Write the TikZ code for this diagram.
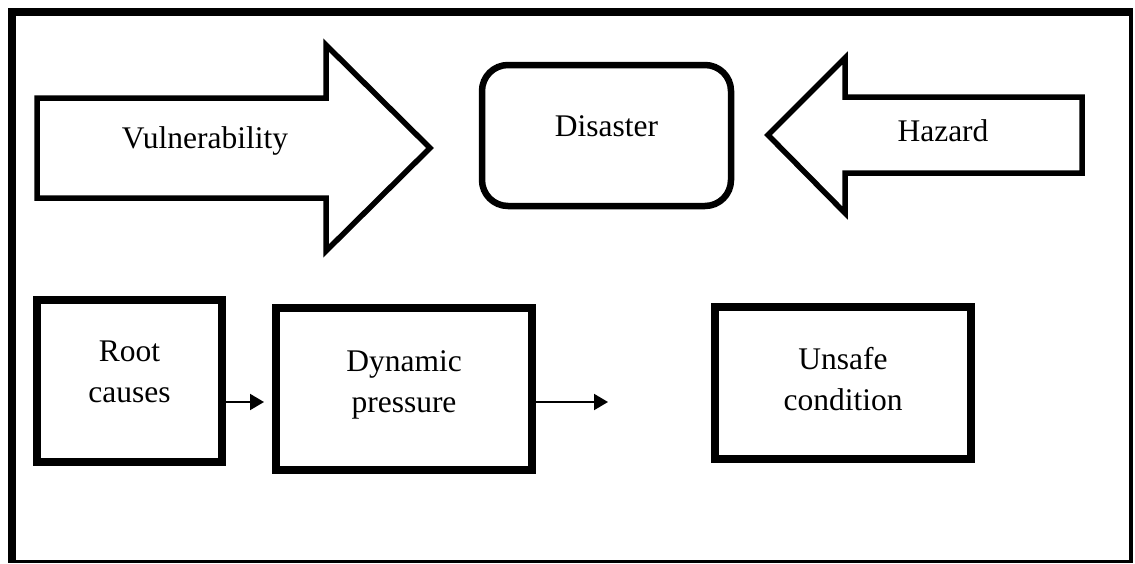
\documentclass[tikz,border=0pt]{standalone}
\usepackage{fontspec}
\setmainfont{Liberation Serif}
\usetikzlibrary{arrows.meta}
\begin{document}
\begin{tikzpicture}[x=1pt,y=-1pt,
  txt/.style={font=\fontsize{31.5}{41.5}\selectfont, align=center, inner sep=0pt},
  thickbox/.style={draw, line width=7.5pt, inner sep=0pt},
  blockarrow/.style={draw, line width=5.5pt, line join=miter},
  conn/.style={line width=2pt, -{Triangle[length=14pt,width=16pt]}}]
\useasboundingbox (0,0) rectangle (1135,563);
% frame
\draw[line width=8pt] (8,12) -- (1133,12);
\draw[line width=8pt] (12,8) -- (12,563);
\draw[line width=4pt] (1131,10) -- (1131,563);
\draw[line width=3pt] (10,561) -- (1133,561);
% vulnerability arrow
\draw[blockarrow] (37,98) -- (326,98) -- (326,45) -- (430,148) -- (326,251) -- (326,198) -- (37,198) -- cycle;
\node[txt] (vuln) at (205,141) {Vulnerability};
% hazard arrow
\draw[blockarrow] (768,135) -- (845,58) -- (845,97) -- (1082,97) -- (1082,173) -- (845,173) -- (845,213) -- cycle;
\node[txt] (haz) at (943,131) {Hazard};
% disaster
\node[draw, line width=6.5pt, rounded corners=26pt, minimum width=249pt, minimum height=141pt] (dis) at (606.5,135.5) {};
\node[txt] (distext) at (606.5,126) {Disaster};
% bottom boxes
\node[thickbox, minimum width=185pt, minimum height=162pt] (root) at (129.5,381) {};
\node[txt] (roottext) at (129.5,372) {Root\\causes};
\node[thickbox, minimum width=256pt, minimum height=162pt] (dyn) at (404,389) {};
\node[txt] (dyntext) at (404,385) {Dynamic\\pressure};
\node[thickbox, minimum width=256pt, minimum height=152pt] (unsafe) at (843,383) {};
\node[txt] (unsafetext) at (843,379) {Unsafe\\condition};
% connectors
\coordinate (a1s) at (root.east |- 0,402);
\coordinate (a1e) at (264,402);
\coordinate (a2s) at (dyn.east |- 0,402);
\coordinate (a2e) at (608,402);
\draw[conn] (a1s) -- (a1e);
\draw[conn] (a2s) -- (a2e);
\end{tikzpicture}
\end{document}
